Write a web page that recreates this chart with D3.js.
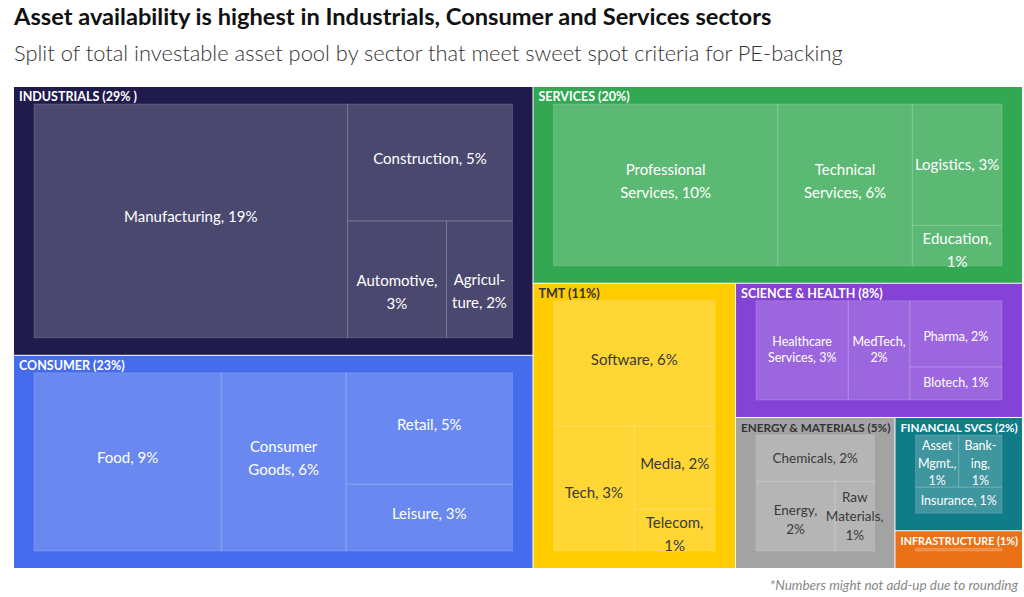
<!DOCTYPE html>
<html>
<head>
<meta charset="utf-8">
<script src="https://cdn.jsdelivr.net/npm/d3@7"></script>
<style>
  body { margin: 0; background: #fff; }
  svg { display: block; font-family: Lato, "Noto Sans", sans-serif; }
</style>
</head>
<body>
<div id="chart"></div>
<script>
// Titles
var titleText = 'Asset availability is highest in Industrials, Consumer and Services sectors';
var subtitleText = 'Split of total investable asset pool by sector that meet sweet spot criteria for PE-backing';
var footNote = '*Numbers might not add-up due to rounding';

// Sectors
var sectorNames = ['Industrials', 'Consumer', 'Services', 'TMT', 'Science & Health',
  'Energy & Materials', 'Financial Svcs', 'Infrastructure'];
var sectorLabels = ['INDUSTRIALS (29% )', 'CONSUMER (23%)', 'SERVICES (20%)', 'TMT (11%)',
  'SCIENCE & HEALTH (8%)', 'ENERGY & MATERIALS (5%)', 'FINANCIAL SVCS (2%)', 'INFRASTRUCTURE (1%)'];

// Sub-sectors per sector ("|" = line break, a trailing "|" breaks before the value)
var subNames = [
  ['Manufacturing', 'Construction', 'Automotive|', 'Agricul-|ture'],
  ['Food', 'Consumer|Goods', 'Retail', 'Leisure'],
  ['Professional|Services', 'Technical|Services', 'Logistics', 'Education|'],
  ['Software', 'Tech', 'Media', 'Telecom|'],
  ['Healthcare|Services', 'MedTech|', 'Pharma', 'Blotech'],
  ['Chemicals', 'Energy|', 'Raw|Materials|'],
  ['Asset|Mgmt.|', 'Bank-|ing|', 'Insurance'],
  ['']
];
// share of asset pool, %
var subValues = [
  [19, 5, 3, 2],
  [9, 6, 5, 3],
  [10, 6, 3, 1],
  [6, 3, 2, 1],
  [3, 2, 2, 1],
  [2, 2, 1],
  [1, 1, 1],
  [1]
];

// Styling
var sectorColors = ['#1f1b4c', '#456ced', '#33a852', '#ffcc00', '#8442d6', '#a3a3a3', '#0f7c88', '#eb7117'];
var darkSectors = ['TMT', 'Energy & Materials'];
var labelStyle = {
  'Science & Health': {size: 12.5, lh: 16, dy: -1},
  'Energy & Materials': {size: 13.5, lh: 19, dy: 0},
  'Financial Svcs': {size: 12.5, lh: 17.5, dy: 0}
};
var defaultLabel = {size: 15, lh: 23, dy: -4};
// small vertical shifts of some labels, px
var labelNudge = {'Automotive|': 17, 'Agricul-|ture': 16, 'Tech': 8, 'Logistics': 4, 'Pharma': 4, 'Energy|': 4};

// how each box is cut into strips: [number of children, 'col' (left strip) or 'row' (top strip)]
var stripPlan = {
  'root': [[2, 'col'], [1, 'row'], [1, 'col'], [1, 'row'], [1, 'col'], [2, 'col']],
  'Industrials': [[1, 'col'], [1, 'row'], [2, 'row']],
  'Consumer': [[1, 'col'], [1, 'col'], [2, 'col']],
  'Services': [[1, 'col'], [1, 'col'], [2, 'col']],
  'TMT': [[1, 'row'], [1, 'col'], [2, 'col']],
  'Science & Health': [[1, 'col'], [1, 'col'], [2, 'col']],
  'Energy & Materials': [[1, 'row'], [1, 'col'], [1, 'col']],
  'Financial Svcs': [[2, 'row'], [1, 'row']],
  'Infrastructure': [[1, 'row']]
};

var width = 1024, height = 597;

var svg = d3.select('#chart')
  .append('svg')
    .attr('width', width)
    .attr('height', height);

// Title and subtitle, fitted to the width they take in the original
function fitText(sel, target) {
  var s = parseFloat(sel.attr('font-size'));
  var w = sel.node().getComputedTextLength();
  sel.attr('font-size', s * target / w);
}

var title = svg.append('text')
  .attr('x', 14).attr('y', 25)
  .attr('font-size', 22).attr('font-weight', 700)
  .attr('fill', '#111')
  .text(titleText);
fitText(title, 758);

var subtitle = svg.append('text')
  .attr('x', 14).attr('y', 61)
  .attr('font-size', 23).attr('font-weight', 300)
  .attr('fill', '#333')
  .text(subtitleText);
fitText(subtitle, 829);

// Build hierarchy
var data = {
  name: 'root',
  children: sectorNames.map(function(s, i) {
    return {
      name: s,
      label: sectorLabels[i],
      color: sectorColors[i],
      children: subNames[i].map(function(n, j) {
        return {name: n, value: subValues[i][j]};
      })
    };
  })
};

var stripTile = function(parent, x0, y0, x1, y1) {
  var plan = stripPlan[parent.data.name];
  var i = 0, rest = parent.value;
  plan.forEach(function(p) {
    var group = parent.children.slice(i, i + p[0]);
    var sum = d3.sum(group, function(d) { return d.value; });
    var part = {children: group, value: sum};
    if (p[1] === 'col') {
      var xe = x0 + (x1 - x0) * sum / rest;
      d3.treemapSlice(part, x0, y0, xe, y1);
      x0 = xe;
    } else {
      var ye = y0 + (y1 - y0) * sum / rest;
      d3.treemapDice(part, x0, y0, x1, ye);
      y0 = ye;
    }
    rest -= sum;
    i += p[0];
  });
};

var root = d3.hierarchy(data).sum(function(d) { return d.children ? 0 : d.value; });

d3.treemap()
  .size([1008, 481])
  .tile(stripTile)
  .paddingInner(function(d) { return d.depth === 0 ? 1 : 0; })
  .paddingTop(function(d) { return d.depth === 1 ? 17 : 0; })
  .paddingBottom(function(d) { return d.depth === 1 ? 17 : 0; })
  .paddingLeft(function(d) { return d.depth === 1 ? 20 : 0; })
  .paddingRight(function(d) { return d.depth === 1 ? 20 : 0; })
  (root);

var chart = svg.append('g').attr('transform', 'translate(14,87)');

// Sector boxes
var sectors = chart.selectAll('.sector')
  .data(root.children)
  .enter().append('g')
    .attr('class', 'sector');

sectors.append('rect')
  .attr('x', function(d) { return d.x0; })
  .attr('y', function(d) { return d.y0; })
  .attr('width', function(d) { return d.x1 - d.x0; })
  .attr('height', function(d) { return d.y1 - d.y0; })
  .attr('fill', function(d) { return d.data.color; });

sectors.append('text')
  .attr('x', function(d) { return d.x0 + 5; })
  .attr('y', function(d) { return d.y0 + 14; })
  .attr('font-size', 12.5)
  .attr('font-weight', 700)
  .attr('fill', function(d) { return darkSectors.indexOf(d.data.name) >= 0 ? '#333' : '#fff'; })
  .text(function(d) { return d.data.label; })
  .each(function(d) {
    // shrink labels that would run past the box
    var room = d.x1 - d.x0 - 9;
    if (this.getComputedTextLength() > room) fitText(d3.select(this), room);
  });

// Sub-sector cells
var cells = chart.selectAll('.cell')
  .data(root.leaves())
  .enter().append('g')
    .attr('class', 'cell');

cells.append('rect')
  .attr('x', function(d) { return d.x0; })
  .attr('y', function(d) { return d.y0; })
  .attr('width', function(d) { return d.x1 - d.x0; })
  .attr('height', function(d) { return d.y1 - d.y0; })
  .attr('fill', '#fff')
  .attr('fill-opacity', 0.2)
  .attr('stroke', '#fff')
  .attr('stroke-opacity', 0.15)
  .attr('stroke-width', 1);

cells.each(function(d) {
  if (d.y1 - d.y0 < 10) return;
  var sector = d.parent.data.name;
  var st = labelStyle[sector] || defaultLabel;
  var name = d.data.name;
  var txt = /\|$/.test(name)
    ? name.slice(0, -1) + ',|' + d.data.value + '%'
    : name + ', ' + d.data.value + '%';
  var lines = txt.split('|');
  var cx = (d.x0 + d.x1) / 2, cy = (d.y0 + d.y1) / 2;
  var blockH = lines.length * st.lh;
  var top = Math.max(d.y0 + 2, cy - blockH / 2 + st.dy) + (labelNudge[name] || 0);
  var t = d3.select(this).append('text')
    .attr('text-anchor', 'middle')
    .attr('font-size', st.size)
    .attr('fill', darkSectors.indexOf(sector) >= 0 ? '#3a3a3a' : '#fff');
  lines.forEach(function(l, i) {
    t.append('tspan')
      .attr('x', cx)
      .attr('y', top + i * st.lh + st.lh / 2 + st.size * 0.35)
      .text(l);
  });
});

// Foot note
svg.append('text')
  .attr('x', 1018).attr('y', 590)
  .attr('text-anchor', 'end')
  .attr('font-size', 13.5)
  .attr('font-style', 'italic')
  .attr('fill', '#888')
  .text(footNote);
</script>
</body>
</html>
